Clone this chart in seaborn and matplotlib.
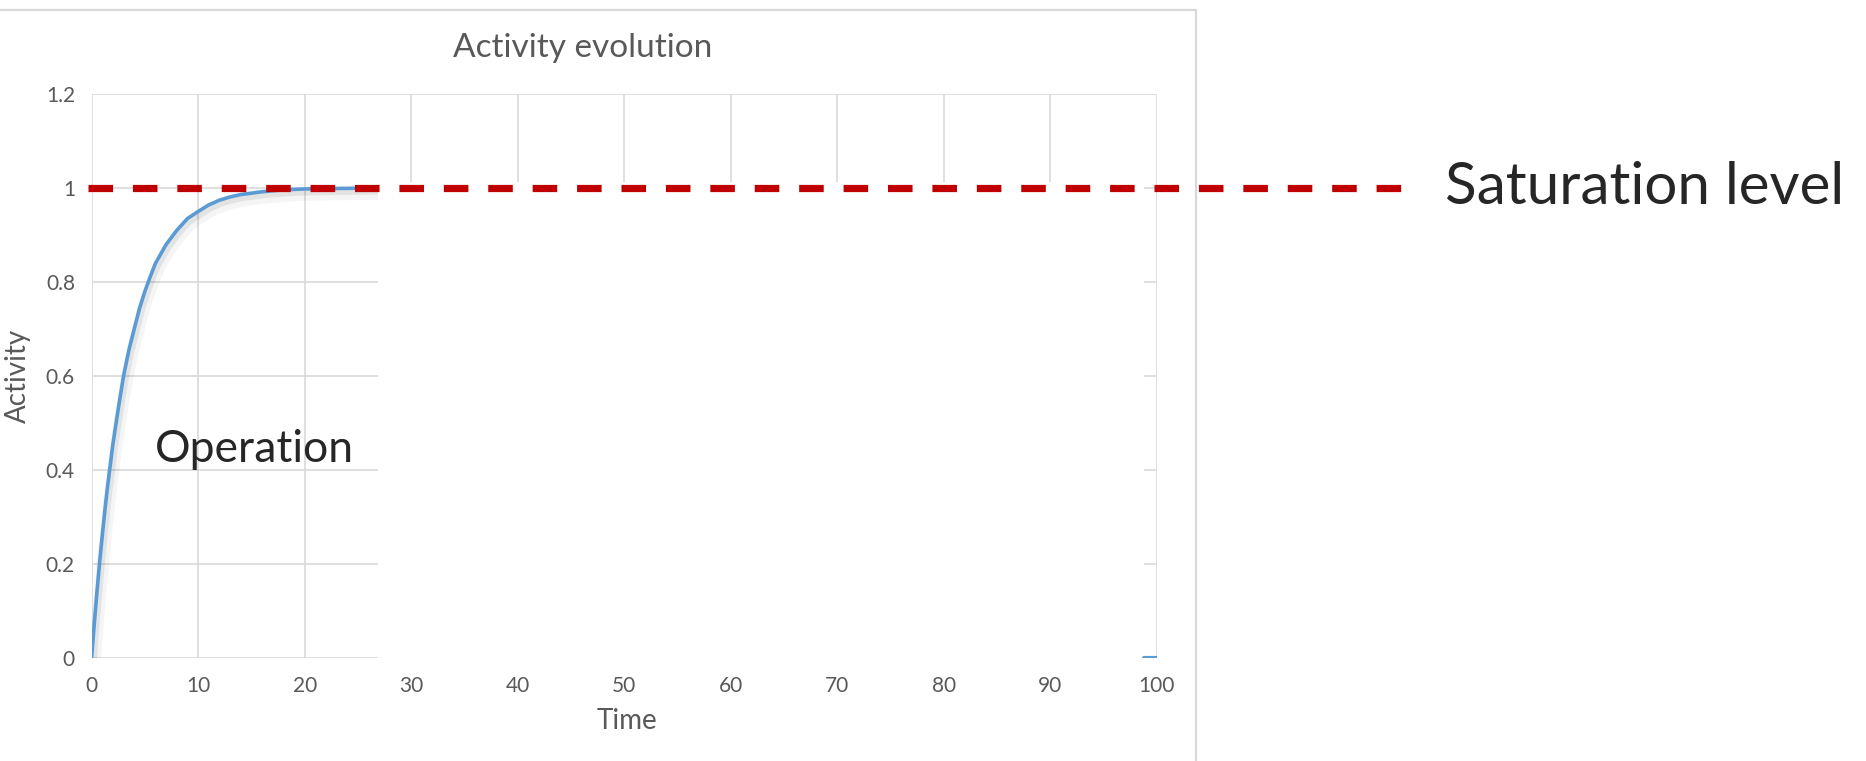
"""Activity evolution chart with saturation level annotation."""

import matplotlib

matplotlib.use("Agg")
import matplotlib.pyplot as plt
import matplotlib.patheffects as pe
from matplotlib.lines import Line2D
from matplotlib.patches import Rectangle
import pandas as pd
import seaborn as sns

# values
time = [0, 0.25, 0.5, 0.75, 1, 1.25, 1.5, 2, 2.5, 3, 3.5, 4, 4.5, 5, 5.5, 6, 7, 8, 9,
        10, 11, 12, 13, 14, 16, 18, 20, 23, 27]
activity = [0, 0.073, 0.14, 0.203, 0.26, 0.315, 0.365, 0.455, 0.53, 0.6, 0.655, 0.70,
            0.744, 0.78, 0.811, 0.84, 0.88, 0.91, 0.935, 0.95, 0.964, 0.974, 0.981,
            0.986, 0.992, 0.996, 0.998, 0.999, 1.0]
tail_time = [98.8, 100]
tail_activity = [0, 0]
saturation = 1.0
x_ticks = list(range(0, 101, 10))
y_ticks = [0, 0.2, 0.4, 0.6, 0.8, 1.0, 1.2]
y_tick_labels = ["0", "0.2", "0.4", "0.6", "0.8", "1", "1.2"]

W, H = 1866, 761
sns.set_theme(style="white")
plt.rcParams["font.family"] = ["Lato", "DejaVu Sans"]

fig = plt.figure(figsize=(W / 100, H / 100), dpi=100)
fig.patch.set_facecolor("white")
ax = fig.add_axes([91.6 / W, 1 - 658 / H, 1065.2 / W, 564 / H])

grid_c = "#d9d9d9"
txt_c = "#595959"

curve = pd.DataFrame({"Time": time, "Activity": activity})
sns.lineplot(data=curve, x="Time", y="Activity", ax=ax, color="#5b9bd5", lw=2.6,
             zorder=1.5,
             path_effects=[pe.SimpleLineShadow(offset=(2, -4), shadow_color="#000000",
                                               alpha=0.04, linewidth=9),
                           pe.SimpleLineShadow(offset=(1.2, -2.2), shadow_color="#000000",
                                               alpha=0.07, linewidth=5),
                           pe.Normal()])

# white box hiding the rest of the plot area
ax.add_patch(Rectangle((26.9, -0.012), 98.8 - 26.9, saturation + 0.024, facecolor="white",
                       edgecolor="none", zorder=2))

tail = pd.DataFrame({"Time": tail_time, "Activity": tail_activity})
sns.lineplot(data=tail, x="Time", y="Activity", ax=ax, color="#5b9bd5", lw=3, zorder=3)

ax.plot([-0.3, 124.1], [saturation, saturation], color="#c00000", lw=5.2,
        dashes=(3.4, 2.75), clip_on=False, zorder=4, solid_capstyle="butt",
        dash_capstyle="butt")

ax.set_xlim(0, 100)
ax.set_ylim(0, 1.2)
ax.set_xticks(x_ticks)
ax.set_yticks(y_ticks)
ax.set_yticklabels(y_tick_labels)
ax.set_axisbelow(True)
ax.grid(True, color=grid_c, lw=1.2, zorder=0.5)
for s in ax.spines.values():
    s.set_visible(False)
ax.tick_params(length=0, labelsize=15, labelcolor=txt_c)
ax.tick_params(axis="x", pad=13)
ax.tick_params(axis="y", pad=12)
ax.set_xlabel("")
ax.set_ylabel("")

ax.text(5.95, 0.4426, "Operation", fontsize=32, color="#262626", va="center", ha="left")
ax.text(127.1, saturation, "Saturation level", fontsize=42, color="#262626",
        va="center", ha="left", clip_on=False)

fig.text(583 / W, 1 - 48 / H, "Activity evolution", fontsize=24, color=txt_c,
         ha="center", va="center")
fig.text(627 / W, 1 - 721 / H, "Time", fontsize=20, color=txt_c, ha="center", va="center")
fig.text(18 / W, 1 - 376 / H, "Activity", fontsize=20, color=txt_c, ha="center",
         va="center", rotation=90)

# chart frame
fig.add_artist(Line2D([0, 1196 / W], [1 - 9.5 / H, 1 - 9.5 / H], color=grid_c, lw=1.6))
fig.add_artist(Line2D([1196 / W, 1196 / W], [1 - 9.5 / H, 0], color=grid_c, lw=1.6))

fig.savefig("out.png", dpi=100)
